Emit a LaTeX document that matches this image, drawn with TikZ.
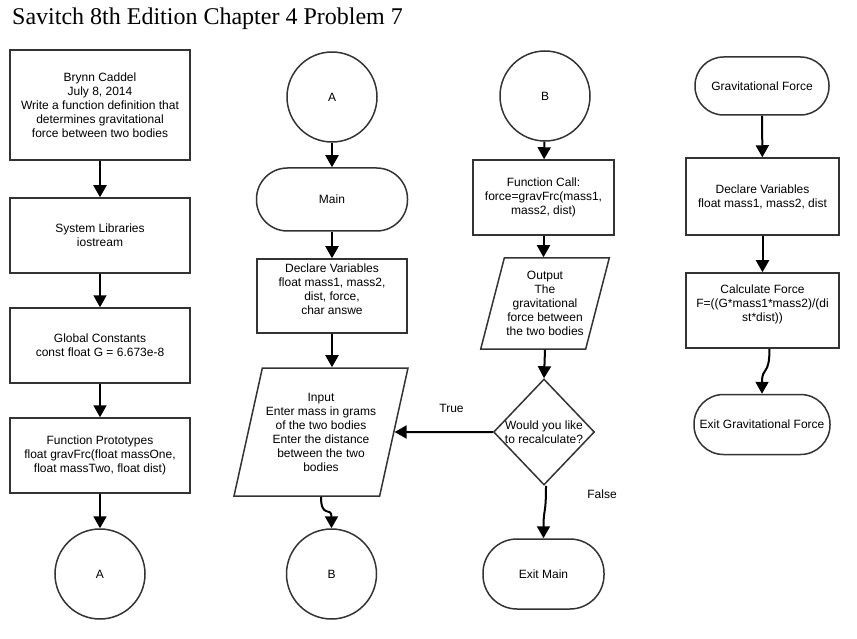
\documentclass[tikz,border=0pt]{standalone}
\usepackage{fontspec}
\setmainfont{Liberation Sans}
\newfontfamily\titlefont{Liberation Serif}
\usetikzlibrary{shapes.geometric,arrows.meta}

\begin{document}
\begin{tikzpicture}[
    x=1pt, y=-1pt,
    >={Triangle[width=13pt,length=12pt]},
    every node/.style={font=\fontsize{12}{14}\selectfont},
    box/.style={
        draw=black!80,
        line width=1.5pt,
        minimum width=180pt,
        minimum height=75pt,
        inner sep=2pt,
        align=center
    },
    term/.style={box, rounded corners=28pt},
    conn/.style={draw=black!80, line width=1.5pt, circle, minimum size=90pt, inner sep=0pt},
    io/.style={box, trapezium, trapezium left angle=71, trapezium right angle=109,
        trapezium stretches body},
    decision/.style={draw=black!80, line width=1.5pt, diamond, inner sep=0pt,
        minimum width=101pt, minimum height=106pt},
    arr/.style={->, line width=2pt}
]
    \useasboundingbox (0,0) rectangle (857,639);

    \node[anchor=west, inner sep=0pt, font=\titlefont\fontsize{24}{28}\selectfont] (title)
        at (12,19) {Savitch 8th Edition Chapter 4 Problem 7};

    % program header and globals
    \node[box, minimum height=110pt] (hdr) at (100,105)
        {Brynn Caddel\\July 8, 2014\\Write a function definition that\\determines gravitational\\force between two bodies};
    \node[box] (libs) at (100,235.5)
        {System Libraries\\iostream};
    \node[box] (consts) at (100,345.5)
        {Global Constants\\const float G = 6.673e-8};
    \node[box] (protos) at (100,455.5)
        {Function Prototypes\\float gravFrc(float massOne,\\float massTwo, float dist)};
    \node[conn] (a1) at (100,574) {A};

    % main
    \node[conn] (a2) at (332,97) {A};
    \node[term, rounded corners=31pt, minimum width=151pt, minimum height=63pt] (main)
        at (332,199.5) {Main};
    \node[box, minimum width=150pt, minimum height=74pt] (decl) at (332,296)
        {Declare Variables\\float mass1, mass2,\\dist, force,\\char answe\\};
    \node[io, minimum width=174pt, minimum height=128pt] (inp) at (321,432)
        {Input\\Enter mass in grams\\of the two bodies\\Enter the distance\\between the two\\bodies};
    \node[conn] (b2) at (331.5,574) {B};

    \node[conn] (b3) at (545,96) {B};
    \node[box, minimum width=141pt, minimum height=75pt] (call) at (543.5,197.5)
        {Function Call:\\force=gravFrc(mass1,\\mass2, dist)};
    \node[io, minimum width=122pt, minimum height=91pt] (outp) at (545,303.5)
        {Output\\The\\gravitational\\force between\\the two bodies};
    \node[decision, label={[align=center]center:Would you like\\to recalculate?}] (dia)
        at (544,432) {};
    \node[term, rounded corners=34pt, minimum width=121pt, minimum height=70pt] (exitm)
        at (543.5,574) {Exit Main};
    \node[inner sep=0pt] (lblfalse) at (602,494) {False};

    % gravFrc function
    \node[term, rounded corners=28.5pt, minimum width=134pt, minimum height=58pt] (grav)
        at (762,86) {Gravitational Force};
    \node[box, minimum width=153pt, minimum height=77pt] (decl2) at (762.5,196.5)
        {Declare Variables\\float mass1, mass2, dist};
    \node[box, minimum width=153pt, minimum height=75pt] (calcf) at (762.5,310.5)
        {Calculate Force\\F=((G*mass1*mass2)/(di\\st*dist))\\};
    \node[term, rounded corners=29.5pt, minimum width=136pt, minimum height=60pt, inner sep=0pt] (exitg)
        at (762,424.5) {Exit Gravitational Force};

    \draw[arr] (hdr) -- (libs);
    \draw[arr] (libs) -- (consts);
    \draw[arr] (consts) -- (protos);
    \draw[arr] (protos) -- (a1);

    \draw[arr] (a2) -- (main);
    \draw[arr] (main) -- (decl);
    \draw[arr] (decl.south) -- (decl.south |- inp.north);
    \draw[arr] (inp.south) .. controls +(0,22) and +(0,-22) .. (b2.north);

    \draw[arr] (b3) -- (call);
    \draw[arr] (call.south) -- (call.south |- outp.north);
    \draw[arr] (outp.south) -- (dia.north);
    \draw[arr] (dia.west) -- node[pos=0.42, above=18pt, inner sep=0pt] {True} (inp);
    \draw[arr] ([xshift=2pt]dia.south) .. controls +(0,30) and +(0,-30) .. (exitm.north);

    \draw[arr] (grav) -- (decl2);
    \draw[arr] (decl2) -- (calcf);
    \draw[arr] ([xshift=7pt]calcf.south) .. controls +(0,28) and +(0,-28) .. (exitg.north);
\end{tikzpicture}
\end{document}
